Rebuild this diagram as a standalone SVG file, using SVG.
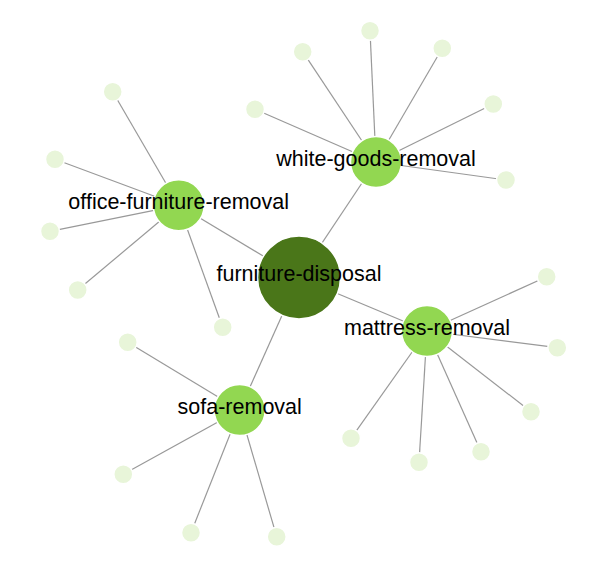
<svg xmlns="http://www.w3.org/2000/svg" width="610" height="572" viewBox="0 0 610 572">
<style>
.link{stroke:#999;stroke-width:1.2;fill:none}
.node circle{stroke:#fff;stroke-width:1.5}
.root circle{fill:#4a7619}
.mid circle{fill:#92d751}
.leaf circle{fill:#e8f5d9}
text{font-family:"Liberation Sans",Arial,sans-serif;font-size:21.5px;fill:#000;text-anchor:middle}
</style>
<rect width="610" height="572" fill="#fff"/>
<g id="links">
<line class="link" x1="299" y1="277.5" x2="376" y2="162"/>
<line class="link" x1="299" y1="277.5" x2="178.7" y2="205.3"/>
<line class="link" x1="299" y1="277.5" x2="427" y2="331"/>
<line class="link" x1="299" y1="277.5" x2="239.7" y2="410"/>
<line class="link" x1="376" y1="162" x2="370" y2="30.7"/>
<line class="link" x1="376" y1="162" x2="302.7" y2="51.7"/>
<line class="link" x1="376" y1="162" x2="442.3" y2="48.3"/>
<line class="link" x1="376" y1="162" x2="255" y2="109.3"/>
<line class="link" x1="376" y1="162" x2="493.3" y2="104"/>
<line class="link" x1="376" y1="162" x2="506" y2="180"/>
<line class="link" x1="178.7" y1="205.3" x2="112.7" y2="91.7"/>
<line class="link" x1="178.7" y1="205.3" x2="55" y2="159.3"/>
<line class="link" x1="178.7" y1="205.3" x2="50" y2="231.3"/>
<line class="link" x1="178.7" y1="205.3" x2="77.7" y2="290"/>
<line class="link" x1="178.7" y1="205.3" x2="222.7" y2="327.3"/>
<line class="link" x1="427" y1="331" x2="546.7" y2="276.7"/>
<line class="link" x1="427" y1="331" x2="557.3" y2="347.7"/>
<line class="link" x1="427" y1="331" x2="531" y2="411.7"/>
<line class="link" x1="427" y1="331" x2="481" y2="451.7"/>
<line class="link" x1="427" y1="331" x2="419" y2="462.3"/>
<line class="link" x1="427" y1="331" x2="351" y2="438.3"/>
<line class="link" x1="239.7" y1="410" x2="127.7" y2="342.3"/>
<line class="link" x1="239.7" y1="410" x2="123.3" y2="474.3"/>
<line class="link" x1="239.7" y1="410" x2="191" y2="532.7"/>
<line class="link" x1="239.7" y1="410" x2="276.7" y2="536.7"/>
</g>
<g id="leaf-wg-1" class="node leaf"><circle cx="370" cy="30.7" r="9.5"/></g>
<g id="leaf-wg-2" class="node leaf"><circle cx="302.7" cy="51.7" r="9.5"/></g>
<g id="leaf-wg-3" class="node leaf"><circle cx="442.3" cy="48.3" r="9.5"/></g>
<g id="leaf-wg-4" class="node leaf"><circle cx="255" cy="109.3" r="9.5"/></g>
<g id="leaf-wg-5" class="node leaf"><circle cx="493.3" cy="104" r="9.5"/></g>
<g id="leaf-wg-6" class="node leaf"><circle cx="506" cy="180" r="9.5"/></g>
<g id="leaf-of-1" class="node leaf"><circle cx="112.7" cy="91.7" r="9.5"/></g>
<g id="leaf-of-2" class="node leaf"><circle cx="55" cy="159.3" r="9.5"/></g>
<g id="leaf-of-3" class="node leaf"><circle cx="50" cy="231.3" r="9.5"/></g>
<g id="leaf-of-4" class="node leaf"><circle cx="77.7" cy="290" r="9.5"/></g>
<g id="leaf-of-5" class="node leaf"><circle cx="222.7" cy="327.3" r="9.5"/></g>
<g id="leaf-mr-1" class="node leaf"><circle cx="546.7" cy="276.7" r="9.5"/></g>
<g id="leaf-mr-2" class="node leaf"><circle cx="557.3" cy="347.7" r="9.5"/></g>
<g id="leaf-mr-3" class="node leaf"><circle cx="531" cy="411.7" r="9.5"/></g>
<g id="leaf-mr-4" class="node leaf"><circle cx="481" cy="451.7" r="9.5"/></g>
<g id="leaf-mr-5" class="node leaf"><circle cx="419" cy="462.3" r="9.5"/></g>
<g id="leaf-mr-6" class="node leaf"><circle cx="351" cy="438.3" r="9.5"/></g>
<g id="leaf-sr-1" class="node leaf"><circle cx="127.7" cy="342.3" r="9.5"/></g>
<g id="leaf-sr-2" class="node leaf"><circle cx="123.3" cy="474.3" r="9.5"/></g>
<g id="leaf-sr-3" class="node leaf"><circle cx="191" cy="532.7" r="9.5"/></g>
<g id="leaf-sr-4" class="node leaf"><circle cx="276.7" cy="536.7" r="9.5"/></g>
<g id="furniture-disposal" class="node root"><circle cx="299" cy="277.5" r="41.5"/></g>
<g id="white-goods-removal" class="node mid"><circle cx="376" cy="162" r="25.5"/></g>
<g id="office-furniture-removal" class="node mid"><circle cx="178.7" cy="205.3" r="25.5"/></g>
<g id="mattress-removal" class="node mid"><circle cx="427" cy="331" r="25.5"/></g>
<g id="sofa-removal" class="node mid"><circle cx="239.7" cy="410" r="25.5"/></g>
<g id="labels">
<text x="299" y="281">furniture-disposal</text>
<text x="376" y="166">white-goods-removal</text>
<text x="178.7" y="209">office-furniture-removal</text>
<text x="427" y="335">mattress-removal</text>
<text x="239.7" y="413.5">sofa-removal</text>
</g>
</svg>
